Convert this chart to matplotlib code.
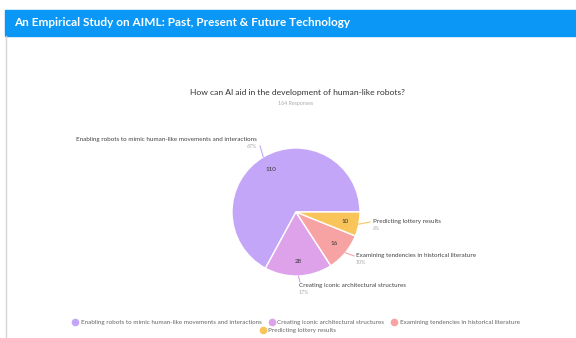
import matplotlib
matplotlib.use("Agg")
import matplotlib.pyplot as plt
import numpy as np
from matplotlib.patches import Rectangle
from matplotlib.lines import Line2D

title = "An Empirical Study on AIML: Past, Present & Future Technology"
question = "How can AI aid in the development of human-like robots?"
responses_label = "164 Responses"
categories = [
    "Enabling robots to mimic human-like movements and interactions",
    "Creating iconic architectural structures",
    "Examining tendencies in historical literature",
    "Predicting lottery results",
]
values = [110, 28, 16, 10]
colors = ["#C4A6F8", "#DDA2EA", "#F8A3A3", "#F9C55A"]

W, H = 576, 338
fig = plt.figure(figsize=(W / 100, H / 100), dpi=100)
fig.patch.set_facecolor("white")
plt.rcParams['font.family'] = ['Lato', 'DejaVu Sans']

def fx(x):
    return x / W

def fy(y):
    return 1 - y / H

# header bar and left border
fig.add_artist(Rectangle((fx(5), fy(36)), 1 - fx(5), (36 - 10) / H,
                         transform=fig.transFigure, color="#0A97F6", zorder=0))
fig.add_artist(Line2D([fx(5.5), fx(5.5)], [fy(36), 0], transform=fig.transFigure,
                      color="#D5D5D5", lw=1.0))
fig.text(fx(14), fy(23), title, color="white", fontsize=8.5, fontweight="bold",
         va="center", ha="left")

fig.text(fx(297), fy(92), question, color="#333333", fontsize=6.1,
         ha="center", va="center")
fig.text(fx(296), fy(104), responses_label, color="#AAAAAA", fontsize=3.8,
         ha="center", va="center")

# pie
cx, cy, r = 296, 212, 64
ax = fig.add_axes([fx(cx - r), fy(cy + r), 2 * r / W, 2 * r / H])
total = sum(values)
wedges, texts = ax.pie(values, colors=colors, startangle=0, counterclock=True,
                       wedgeprops=dict(edgecolor="white", linewidth=1.0))
ax.set_xlim(-1, 1)
ax.set_ylim(-1, 1)
ax.set_aspect("equal")
ax.axis("off")

for w, v in zip(wedges, values):
    mid = np.deg2rad((w.theta1 + w.theta2) / 2)
    ax.text(0.78 * np.cos(mid), 0.78 * np.sin(mid), str(v), fontsize=4.5,
            color="#333333", ha="center", va="center")

# outer labels: (text x, text y, ha, line end x, line end y) in pixel layout
label_layout = [
    (257, 139, "right", 260, 146),
    (299, 285, "left", 300, 282),
    (356, 256, "left", 354, 256),
    (373, 221, "left", 370, 222),
]
for w, v, cat, (tx, ty, ha, lx, ly) in zip(wedges, values, categories, label_layout):
    mid = np.deg2rad((w.theta1 + w.theta2) / 2)
    ex = cx + r * np.cos(mid)
    ey = cy - r * np.sin(mid)
    fig.add_artist(Line2D([fx(ex), fx(lx)], [fy(ey), fy(ly)], transform=fig.transFigure,
                          color=w.get_facecolor(), lw=0.8))
    fig.text(fx(tx), fy(ty), cat, fontsize=4.5, color="#444444", ha=ha, va="center")
    fig.text(fx(tx), fy(ty + 7), f"{round(100 * v / total)}%", fontsize=3.8,
             color="#AAAAAA", ha=ha, va="center")

# legend
handles = [Line2D([], [], marker="o", linestyle="none", markersize=4.5,
                  markerfacecolor=c, markeredgecolor=c) for c in colors]
leg_kw = dict(frameon=False, fontsize=4.5, handletextpad=0.4, columnspacing=1.1,
              handlelength=1.0, labelcolor="#666666", borderaxespad=0, borderpad=0)
fig.legend(handles[:3], categories[:3], loc="center", ncol=3,
           bbox_to_anchor=(fx(296), fy(322)), **leg_kw)
fig.legend(handles[3:], categories[3:], loc="center", ncol=1,
           bbox_to_anchor=(fx(298), fy(330)), **leg_kw)

fig.savefig("out.png", dpi=100, facecolor="white")
